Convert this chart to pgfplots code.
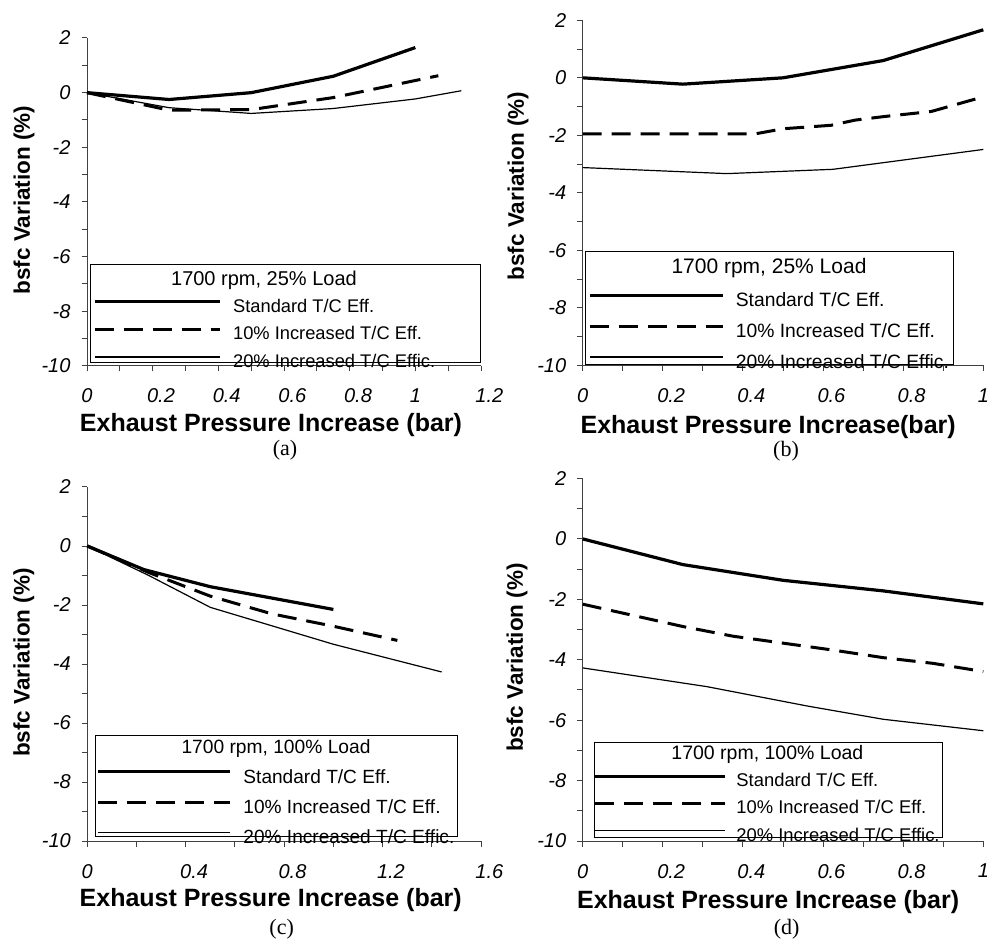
\documentclass[border=0pt]{standalone}
\usepackage{pgfplots}
\pgfplotsset{compat=1.18}
\usepackage{fontspec}
\setmainfont{Liberation Sans}
\newfontfamily\capfont{Liberation Serif}
\tikzset{lbl/.style={font=\fontsize{25}{25}\selectfont\bfseries},
  ylbl/.style={font=\fontsize{22.5}{22.5}\selectfont\bfseries}}
\pgfplotsset{
  panel/.style={
    scale only axis, clip=false,
    axis x line*=bottom, axis y line*=left,
    axis line style={black!75, line width=1pt},
    tick style={black!75, line width=1pt},
    tick align=outside, major tick length=5.5pt, minor tick length=5.5pt,
    ymin=-10, ymax=2, ytick={-10,-8,-6,-4,-2,0,2},
    yticklabels={-10,-8,-6,-4,-2,0,2},
    minor ytick={-9,-7,-5,-3,-1,1},
    tick label style={font=\fontsize{20}{20}\selectfont\itshape},
    yticklabel style={xshift=-7.5pt},
    xticklabel style={yshift=-14pt},
    ylabel={bsfc Variation (\%)},
    legend cell align=left,
  },
  std/.style={black, line width=3.2pt, line join=round},
  dsh/.style={black, line width=3pt, dash pattern=on 19pt off 10pt},
  thn/.style={black, line width=1.2pt, line join=round},
}
\begin{document}
\begin{tikzpicture}[x=1pt,y=1pt]
\path[use as bounding box] (0,0) rectangle (992,940);

% ---------------- (a)
\begin{axis}[panel, at={(87pt,574pt)}, anchor=south west,
  width=394pt, height=328pt,
  xmin=0, xmax=1.2, xtick={0,0.2,0.4,0.6,0.8,1,1.2},
  xticklabels={0,0\rlap{.2},0\rlap{.4},0\rlap{.6},0\rlap{.8},1,1\rlap{.2}},
  minor xtick={0.1,0.3,0.5,0.7,0.9,1.1},
  xlabel={Exhaust Pressure Increase (bar)},
  every axis x label/.style={lbl, at={(axis description cs:0.467,-0.181)}, anchor=center},
  every axis y label/.style={ylbl, at={(axis description cs:-0.160,0.506)}, rotate=90, anchor=center},
  legend style={draw=none, fill=none, inner sep=0pt, outer sep=0pt,
    at={(axis cs:0.018,-7.56)}, anchor=north west,
    font=\fontsize{18.3}{18.3}\selectfont, row sep=10.6pt, column sep=12pt,
    nodes={inner sep=0pt, text height=13pt, text depth=4pt}},
  legend image code/.code={\draw[#1] (0pt,6pt) -- (125pt,6pt);},
]
\draw[black, line width=1pt, fill=white] (axis cs:0.011,-6.28) rectangle (axis cs:1.199,-9.89);
\node[font=\fontsize{20}{20}\selectfont] at (axis cs:0.539,-6.88) {1700 rpm, 25\% Load};
\addplot[std] coordinates {(0,0) (0.25,-0.25) (0.5,0) (0.75,0.6) (1.0,1.65)};
\addlegendentry{Standard T/C Eff.}
\addplot[dsh] coordinates {(0,0) (0.25,-0.64) (0.5,-0.62) (0.75,-0.18) (1.07,0.62)};
\addlegendentry{10\% Increased T/C Eff.}
\addplot[thn] coordinates {(0,0) (0.25,-0.55) (0.5,-0.76) (0.75,-0.58) (1.0,-0.23) (1.14,0.07)};
\addlegendentry{20\% Increased T/C Effic.}
\end{axis}

% ---------------- (b)
\begin{axis}[panel, at={(582.7pt,574.5pt)}, anchor=south west,
  width=400.6pt, height=345.2pt,
  xmin=0, xmax=1, xtick={0,0.2,0.4,0.6,0.8,1},
  xticklabels={0,0\rlap{.2},0\rlap{.4},0\rlap{.6},0\rlap{.8},1},
  minor xtick={0.1,0.3,0.5,0.7,0.9},
  xlabel={Exhaust Pressure Increase(bar)},
  every axis x label/.style={lbl, at={(axis description cs:0.463,-0.178)}, anchor=center},
  every axis y label/.style={ylbl, at={(axis description cs:-0.1615,0.52)}, rotate=90, anchor=center},
  legend style={draw=none, fill=none, inner sep=0pt, outer sep=0pt,
    at={(axis cs:0.014,-7.48)}, anchor=north west,
    font=\fontsize{19.3}{19.3}\selectfont, row sep=13.4pt, column sep=11.3pt,
    nodes={inner sep=0pt, text height=13.5pt, text depth=4pt}},
  legend image code/.code={\draw[#1] (0pt,6.5pt) -- (133pt,6.5pt);},
]
\draw[black, line width=1pt, fill=white] (axis cs:0.006,-6.04) rectangle (axis cs:0.925,-9.95);
\node[font=\fontsize{21}{21}\selectfont] at (axis cs:0.465,-6.62) {1700 rpm, 25\% Load};
\addplot[std] coordinates {(0,0) (0.25,-0.22) (0.5,0) (0.75,0.6) (1.0,1.67)};
\addlegendentry{Standard T/C Eff.}
\addplot[dsh] coordinates {(0,-1.95) (0.43,-1.95) (0.5,-1.77) (0.62,-1.65) (0.68,-1.47) (0.75,-1.35) (0.87,-1.17) (1.0,-0.66)};
\addlegendentry{10\% Increased T/C Eff.}
\addplot[thn] coordinates {(0,-3.12) (0.36,-3.33) (0.625,-3.18) (0.75,-2.95) (1.0,-2.49)};
\addlegendentry{20\% Increased T/C Effic.}
\end{axis}

% ---------------- (c)
\begin{axis}[panel, at={(87.3pt,99pt)}, anchor=south west,
  width=393.7pt, height=354pt,
  xmin=0, xmax=1.6, xtick={0,0.4,0.8,1.2,1.6},
  xticklabels={0,0\rlap{.4},0\rlap{.8},1\rlap{.2},1\rlap{.6}},
  minor xtick={0.2,0.6,1.0,1.4},
  xlabel={Exhaust Pressure Increase (bar)},
  every axis x label/.style={lbl, at={(axis description cs:0.466,-0.167)}, anchor=center},
  every axis y label/.style={ylbl, at={(axis description cs:-0.161,0.504)}, rotate=90, anchor=center},
  legend style={draw=none, fill=none, inner sep=0pt, outer sep=0pt,
    at={(axis cs:0.038,-7.58)}, anchor=north west,
    font=\fontsize{19.1}{19.1}\selectfont, row sep=12.8pt, column sep=12pt,
    nodes={inner sep=0pt, text height=13.5pt, text depth=4pt}},
  legend image code/.code={\draw[#1] (0pt,6.5pt) -- (131.6pt,6.5pt);},
]
\draw[black, line width=1pt, fill=white] (axis cs:0.034,-6.41) rectangle (axis cs:1.504,-9.85);
\node[font=\fontsize{19.2}{19.2}\selectfont] at (axis cs:0.767,-6.86) {1700 rpm, 100\% Load};
\addplot[std] coordinates {(0,0) (0.23,-0.8) (0.5,-1.38) (1.0,-2.15)};
\addlegendentry{Standard T/C Eff.}
\addplot[dsh] coordinates {(0,0) (0.25,-0.9) (0.5,-1.7) (0.75,-2.3) (1.0,-2.72) (1.26,-3.2)};
\addlegendentry{10\% Increased T/C Eff.}
\addplot[thn] coordinates {(0,0) (0.25,-1.0) (0.5,-2.08) (1.0,-3.33) (1.44,-4.27)};
\addlegendentry{20\% Increased T/C Effic.}
\end{axis}

% ---------------- (d)
\begin{axis}[panel, at={(582.7pt,99pt)}, anchor=south west,
  width=400.6pt, height=362.5pt,
  xmin=0, xmax=1, xtick={0,0.2,0.4,0.6,0.8,1},
  xticklabels={0,0\rlap{.2},0\rlap{.4},0\rlap{.6},0\rlap{.8},1},
  minor xtick={0.1,0.3,0.5,0.7,0.9},
  xlabel={Exhaust Pressure Increase (bar)},
  every axis x label/.style={lbl, at={(axis description cs:0.463,-0.168)}, anchor=center},
  every axis y label/.style={ylbl, at={(axis description cs:-0.164,0.506)}, rotate=90, anchor=center},
  legend style={draw=none, fill=none, inner sep=0pt, outer sep=0pt,
    at={(axis cs:0.027,-7.77)}, anchor=north west,
    font=\fontsize{18.4}{18.4}\selectfont, row sep=10.3pt, column sep=10.3pt,
    nodes={inner sep=0pt, text height=13pt, text depth=4pt}},
  legend image code/.code={\draw[#1] (0pt,6pt) -- (129.4pt,6pt);},
]
\draw[black, line width=1pt, fill=white] (axis cs:0.029,-6.73) rectangle (axis cs:0.898,-9.87);
\node[font=\fontsize{19.5}{19.5}\selectfont] at (axis cs:0.461,-7.13) {1700 rpm, 100\% Load};
\addplot[std] coordinates {(0,0) (0.25,-0.85) (0.5,-1.37) (0.75,-1.72) (1.0,-2.15)};
\addlegendentry{Standard T/C Eff.}
\addplot[dsh] coordinates {(0,-2.16) (0.25,-2.9) (0.375,-3.22) (0.5,-3.45) (0.625,-3.68) (0.75,-3.93) (0.875,-4.12) (1.0,-4.39)};
\addlegendentry{10\% Increased T/C Eff.}
\addplot[thn] coordinates {(0,-4.27) (0.31,-4.89) (0.56,-5.53) (0.75,-5.97) (1.0,-6.35)};
\addlegendentry{20\% Increased T/C Effic.}
\end{axis}

\node[font=\capfont\fontsize{22}{22}\selectfont] at (285,490) {(a)};
\node[font=\capfont\fontsize{22}{22}\selectfont] at (786,488.3) {(b)};
\node[font=\capfont\fontsize{22}{22}\selectfont] at (281.7,11) {(c)};
\node[font=\capfont\fontsize{22}{22}\selectfont] at (786.7,11) {(d)};
\end{tikzpicture}
\end{document}
